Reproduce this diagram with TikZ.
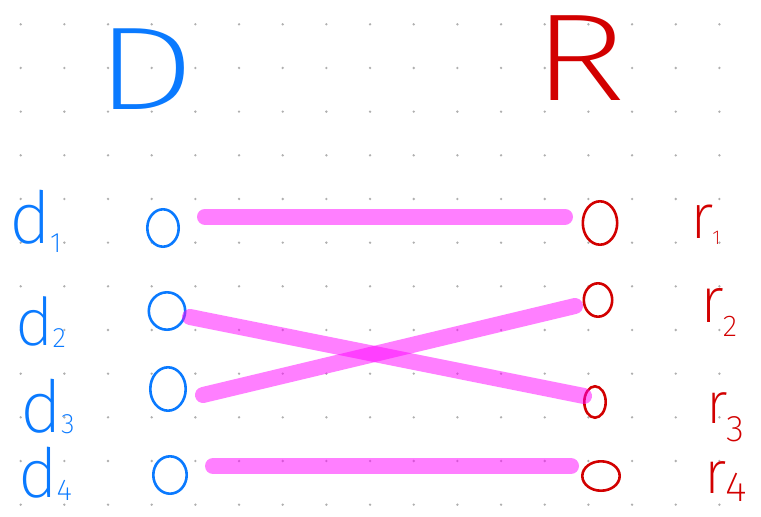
\documentclass[tikz,border=0pt]{standalone}
\usepackage{fontspec}
\newfontfamily\hand{Fira Sans ExtraLight}
\usetikzlibrary{shapes.geometric}
\definecolor{penblue}{RGB}{10,122,255}
\definecolor{penred}{RGB}{210,0,0}
\definecolor{griddot}{RGB}{175,175,175}
\definecolor{hilite}{RGB}{255,0,255}
\newcommand{\lab}[5]{{\fontsize{#2}{#2}\hand #1\kern-1pt\raisebox{-#5pt}{\fontsize{#4}{#4}\hand #3}}}
\begin{document}
\begin{tikzpicture}[x=1pt,y=-1pt,
  vtx/.style={ellipse, draw, line width=2.6pt, inner sep=0pt},
  bluev/.style={vtx, draw=penblue},
  redv/.style={vtx, draw=penred},
  match/.style={line width=16pt, line cap=round, draw=hilite, opacity=0.5},
  lab/.style={inner sep=0pt, anchor=base west},
  big/.style={inner sep=0pt, anchor=center}]
\useasboundingbox (0,0) rectangle (761,517);
\fill[white] (0,0) rectangle (761,517);
\foreach \i in {0,...,16}
  \foreach \j in {0,...,11}
    \fill[griddot] (20.7+43.67*\i, 24.3+43.67*\j) circle (1.3);
% set titles
\node[big, text=penblue, xscale=1.35] (Dlab) at (146,69) {\fontsize{118}{118}\hand D};
\node[big, text=penred, xscale=1.3] (Rlab) at (580,58) {\fontsize{124}{124}\hand R};
% left vertices
\node[bluev, minimum width=31.4pt, minimum height=37.4pt] (c1) at (163,228) {};
\node[bluev, minimum width=36.4pt, minimum height=37.4pt] (c2) at (167,311) {};
\node[bluev, minimum width=35.4pt, minimum height=43.4pt] (c3) at (168,389) {};
\node[bluev, minimum width=33.4pt, minimum height=37.4pt] (c4) at (170,475) {};
% right vertices
\node[redv, minimum width=34.4pt, minimum height=43.4pt] (e1) at (600,223) {};
\node[redv, minimum width=28.4pt, minimum height=33.4pt] (e2) at (598,300) {};
\node[redv, minimum width=21.4pt, minimum height=31.4pt] (e3) at (595,402) {};
\node[redv, minimum width=37.4pt, minimum height=29.4pt] (e4) at (601,476) {};
% labels
\node[lab, text=penblue] (d1) at (9,243) {\lab{d}{72}{1}{28}{9}};
\node[lab, text=penblue] (d2) at (15,345) {\lab{d}{66}{2}{28}{2}};
\node[lab, text=penblue] (d3) at (20,432) {\lab{d}{72}{3}{28}{1}};
\node[lab, text=penblue] (d4) at (18,497) {\lab{d}{68}{4}{30}{3}};
\node[lab, text=penred] (r1) at (690,238) {\lab{r}{63}{1}{20}{6}};
\node[lab, text=penred] (r2) at (700,322) {\lab{r}{64}{2}{30}{14}};
\node[lab, text=penred] (r3) at (706,423) {\lab{r}{58}{3}{37}{18}};
\node[lab, text=penred] (r4) at (704,493) {\lab{r}{60}{4}{42}{8}};
% connector ends
\coordinate (m1a) at (205,216.7); \coordinate (m1b) at (565,216.7);
\coordinate (m2a) at (190,317);   \coordinate (m2b) at (584,396);
\coordinate (m3a) at (203,395);   \coordinate (m3b) at (575,306);
\coordinate (m4a) at (213,466);   \coordinate (m4b) at (571,466);
\draw[match] (m1a) -- (m1b);
\draw[match] (m2a) -- (m2b);
\draw[match] (m3a) -- (m3b);
\draw[match] (m4a) -- (m4b);
\end{tikzpicture}
\end{document}
